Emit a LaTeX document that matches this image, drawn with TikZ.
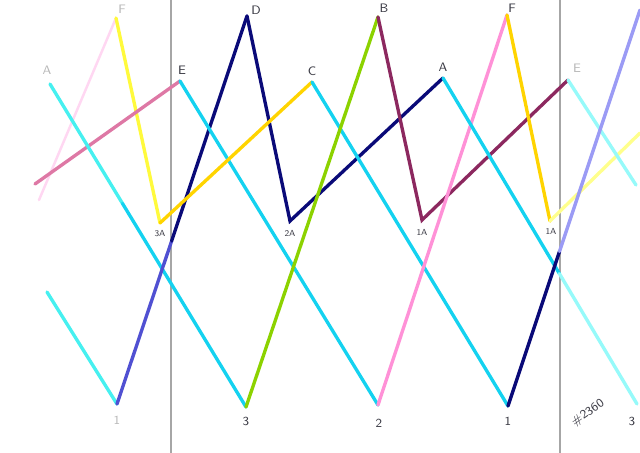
\documentclass[tikz,border=0pt]{standalone}
\usepackage{xcolor}
\usepackage{tikz}
\usetikzlibrary{positioning,calc}

\definecolor{aqua}{RGB}{70,240,240}
\definecolor{paleaqua}{RGB}{150,250,250}
\definecolor{skycyan}{RGB}{20,210,240}
\definecolor{navy}{RGB}{10,10,120}
\definecolor{midblue}{RGB}{80,80,210}
\definecolor{periwinkle}{RGB}{155,155,245}
\definecolor{gold}{RGB}{255,212,0}
\definecolor{lemon}{RGB}{255,250,60}
\definecolor{paleyellow}{RGB}{255,255,140}
\definecolor{leafgreen}{RGB}{140,210,0}
\definecolor{maroon}{RGB}{140,40,95}
\definecolor{candy}{RGB}{255,145,215}
\definecolor{mauve}{RGB}{222,120,165}
\definecolor{palepink}{RGB}{255,215,242}
\definecolor{pencil}{RGB}{60,60,70}

\begin{document}
\begin{tikzpicture}[
    x=0.02cm, y=-0.02cm,
    every node/.style={font=\sffamily\scriptsize, text=pencil, inner sep=1pt},
    stroke/.style={line width=1.9pt, line cap=round},
    divider/.style={draw=gray!70, line width=0.8pt},
    faint/.style={text=gray!55}
]
\useasboundingbox[fill=white] (0,0) rectangle (640,453);

% Dividers
\draw[divider] (171,0) -- (171,453);
\draw[divider] (560,0) -- (560,453);

% Peaks
\coordinate (aL) at (50,84);
\coordinate (fL) at (116,18);
\coordinate (eL) at (180,81);
\coordinate (d) at (247,16);
\coordinate (c) at (312,82);
\coordinate (b) at (378,17);
\coordinate (aR) at (443,78);
\coordinate (fR) at (507,15);
\coordinate (eR) at (568,80);

% Middle turns
\coordinate (t3A) at (160,223);
\coordinate (t2A) at (290,221);
\coordinate (t1A) at (422,220);
\coordinate (t1R) at (550,221);

% Valleys
\coordinate (v1L) at (117,404);
\coordinate (v3) at (246,407);
\coordinate (v2) at (378,405);
\coordinate (v1R) at (508,406);
\coordinate (v3R) at (637,404);

% Loose ends
\coordinate (pinkEnd) at (39,200);
\coordinate (mauveEnd) at (35,184);
\coordinate (aquaEnd) at (47,292);
\coordinate (eRend) at (636,185);
\coordinate (yelEnd) at (640,133);
\coordinate (blueEnd) at (640,10);

% Lines
\draw[stroke, draw=palepink, line width=1.4pt] (pinkEnd) -- (fL);
\draw[stroke, draw=lemon] (fL) -- (t3A);
\draw[stroke, draw=mauve] (mauveEnd) -- (eL);
\draw[stroke, draw=aqua] (aL) -- ($(aL)!0.37!(v3)$);
\draw[stroke, draw=skycyan] ($(aL)!0.37!(v3)$) -- (v3);
\draw[stroke, draw=aqua] (aquaEnd) -- (v1L);
\draw[stroke, draw=midblue] (v1L) -- ($(v1L)!0.42!(d)$);
\draw[stroke, draw=navy] ($(v1L)!0.42!(d)$) -- (d);
\draw[stroke, draw=navy] (d) -- (t2A) -- (aR);
\draw[stroke, draw=skycyan] (eL) -- (v2);
\draw[stroke, draw=gold] (t3A) -- (c);
\draw[stroke, draw=skycyan] (c) -- (v1R);
\draw[stroke, draw=leafgreen] (v3) -- (b);
\draw[stroke, draw=maroon] (b) -- (t1A) -- (eR);
\draw[stroke, draw=candy] (v2) -- (fR);
\draw[stroke, draw=gold] (fR) -- (t1R);
\draw[stroke, draw=paleyellow] (t1R) -- (yelEnd);
\draw[stroke, draw=skycyan] (aR) -- ($(aR)!0.6!(v3R)$);
\draw[stroke, draw=paleaqua] ($(aR)!0.6!(v3R)$) -- (v3R);
\draw[stroke, draw=paleaqua] (eR) -- (eRend);
\draw[stroke, draw=navy] (v1R) -- ($(v1R)!0.39!(blueEnd)$);
\draw[stroke, draw=periwinkle] ($(v1R)!0.39!(blueEnd)$) -- (blueEnd);

% Labels
\node[faint] (lblAL) at (47,70) {A};
\node[faint] (lblFL) at (122,9) {F};
\node (lblEL) at (182,70) {E};
\node (lblD) at (256,10) {D};
\node (lblC) at (312,71) {C};
\node (lblB) at (384,8) {B};
\node (lblAR) at (443,67) {A};
\node (lblFR) at (512,8) {F};
\node[faint] (lblER) at (577,68) {E};
\node[font=\sffamily\tiny] (lbl3A) at (160,234) {3A};
\node[font=\sffamily\tiny] (lbl2A) at (290,233) {2A};
\node[font=\sffamily\tiny] (lbl1A) at (422,232) {1A};
\node[font=\sffamily\tiny] (lbl1AR) at (551,231) {1A};
\node[faint] (lbl1L) at (117,420) {1};
\node (lbl3) at (246,421) {3};
\node (lbl2) at (379,423) {2};
\node (lbl1R) at (508,421) {1};
\node (lbl3R) at (632,421) {3};
\node[rotate=35] (stamp) at (588,413) {\#2360};

\end{tikzpicture}
\end{document}
